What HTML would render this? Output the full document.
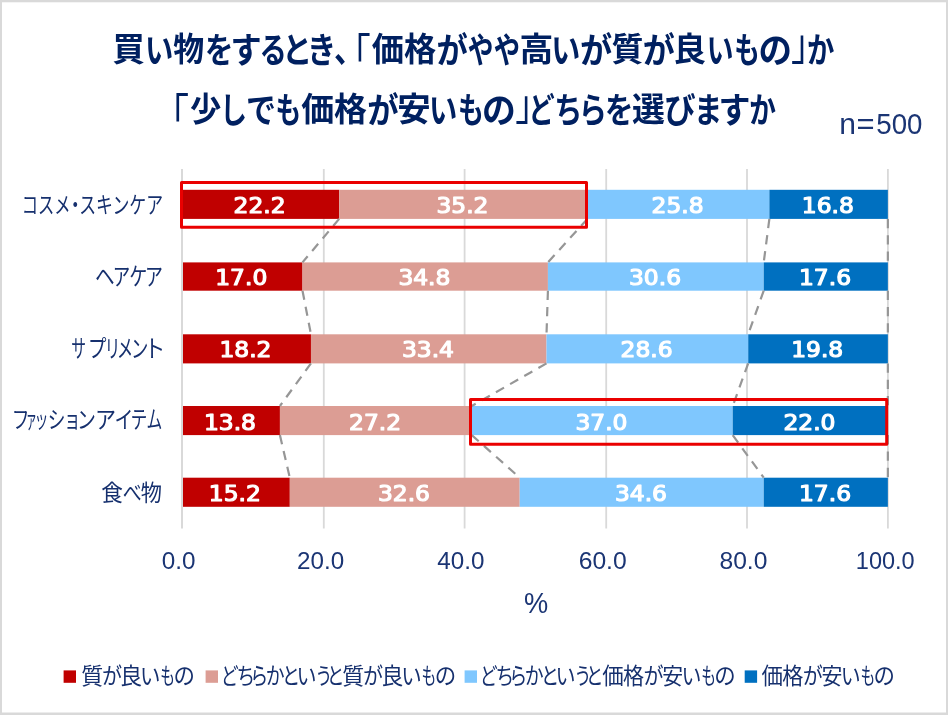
<!DOCTYPE html>
<html lang="ja"><head><meta charset="utf-8"><title>chart</title>
<style>
html,body{margin:0;padding:0;background:#fff}
svg{display:block}
text{font-family:"Liberation Sans","Noto Sans CJK JP",sans-serif;fill:#16306e;font-size:21.33px;white-space:pre}
.t{fill:#002060;font-weight:700;font-size:34px}
.a{font-size:22px;fill:#1b3574}
.d{font-weight:400;font-size:23.5px;fill:#fff;stroke:#fff;stroke-width:1.3px;stroke-linejoin:round;font-family:"DejaVu Sans","Liberation Sans",sans-serif}
</style></head>
<body>
<svg width="948" height="715" viewBox="0 0 948 715">
<rect x="0" y="0" width="948" height="715" fill="#d9d9d9"/>
<rect x="2" y="2.3" width="944" height="710.2" fill="#fff"/>
<g shape-rendering="auto">
<rect x="322.90" y="169" width="1.8" height="359.5" fill="#d9d9d9"/>
<rect x="463.70" y="169" width="1.8" height="359.5" fill="#d9d9d9"/>
<rect x="605.30" y="169" width="1.8" height="359.5" fill="#d9d9d9"/>
<rect x="746.10" y="169" width="1.8" height="359.5" fill="#d9d9d9"/>
<rect x="887.00" y="169" width="1.8" height="359.5" fill="#d9d9d9"/>
<rect x="182.60" y="189.80" width="156.57" height="29.1" fill="#c00000"/>
<rect x="339.17" y="189.80" width="248.25" height="29.1" fill="#dc9d94"/>
<rect x="587.41" y="189.80" width="181.95" height="29.1" fill="#7fc7fe"/>
<rect x="769.37" y="189.80" width="118.48" height="29.1" fill="#0070c0"/>
<rect x="182.60" y="262.40" width="119.89" height="28.3" fill="#c00000"/>
<rect x="302.49" y="262.40" width="245.43" height="28.3" fill="#dc9d94"/>
<rect x="547.92" y="262.40" width="215.81" height="28.3" fill="#7fc7fe"/>
<rect x="763.73" y="262.40" width="124.12" height="28.3" fill="#0070c0"/>
<rect x="182.60" y="334.30" width="128.36" height="29.1" fill="#c00000"/>
<rect x="310.96" y="334.30" width="235.55" height="29.1" fill="#dc9d94"/>
<rect x="546.51" y="334.30" width="201.70" height="29.1" fill="#7fc7fe"/>
<rect x="748.21" y="334.30" width="139.64" height="29.1" fill="#0070c0"/>
<rect x="182.60" y="406.00" width="97.32" height="29.1" fill="#c00000"/>
<rect x="279.92" y="406.00" width="191.83" height="29.1" fill="#dc9d94"/>
<rect x="471.75" y="406.00" width="260.94" height="29.1" fill="#7fc7fe"/>
<rect x="732.70" y="406.00" width="155.15" height="29.1" fill="#0070c0"/>
<rect x="182.60" y="477.70" width="107.20" height="29.1" fill="#c00000"/>
<rect x="289.80" y="477.70" width="229.91" height="29.1" fill="#dc9d94"/>
<rect x="519.71" y="477.70" width="244.02" height="29.1" fill="#7fc7fe"/>
<rect x="763.73" y="477.70" width="124.12" height="29.1" fill="#0070c0"/>
<rect x="181" y="169" width="2" height="359.5" fill="#d9d9d9"/>
<line x1="339.17" y1="218.90" x2="302.49" y2="262.40" stroke="#969696" stroke-width="2.2" stroke-dasharray="9.3 7"/>
<line x1="587.41" y1="218.90" x2="547.92" y2="262.40" stroke="#969696" stroke-width="2.2" stroke-dasharray="9.3 7"/>
<line x1="769.37" y1="218.90" x2="763.73" y2="262.40" stroke="#969696" stroke-width="2.2" stroke-dasharray="9.3 7"/>
<line x1="887.85" y1="218.90" x2="887.85" y2="262.40" stroke="#969696" stroke-width="2.2" stroke-dasharray="9.3 7"/>
<line x1="302.49" y1="290.70" x2="310.96" y2="334.30" stroke="#969696" stroke-width="2.2" stroke-dasharray="9.3 7"/>
<line x1="547.92" y1="290.70" x2="546.51" y2="334.30" stroke="#969696" stroke-width="2.2" stroke-dasharray="9.3 7"/>
<line x1="763.73" y1="290.70" x2="748.21" y2="334.30" stroke="#969696" stroke-width="2.2" stroke-dasharray="9.3 7"/>
<line x1="887.85" y1="290.70" x2="887.85" y2="334.30" stroke="#969696" stroke-width="2.2" stroke-dasharray="9.3 7"/>
<line x1="310.96" y1="363.40" x2="279.92" y2="406.00" stroke="#969696" stroke-width="2.2" stroke-dasharray="9.3 7"/>
<line x1="546.51" y1="363.40" x2="471.75" y2="406.00" stroke="#969696" stroke-width="2.2" stroke-dasharray="9.3 7"/>
<line x1="748.21" y1="363.40" x2="732.70" y2="406.00" stroke="#969696" stroke-width="2.2" stroke-dasharray="9.3 7"/>
<line x1="887.85" y1="363.40" x2="887.85" y2="406.00" stroke="#969696" stroke-width="2.2" stroke-dasharray="9.3 7"/>
<line x1="279.92" y1="435.10" x2="289.80" y2="477.70" stroke="#969696" stroke-width="2.2" stroke-dasharray="9.3 7"/>
<line x1="471.75" y1="435.10" x2="519.71" y2="477.70" stroke="#969696" stroke-width="2.2" stroke-dasharray="9.3 7"/>
<line x1="732.70" y1="435.10" x2="763.73" y2="477.70" stroke="#969696" stroke-width="2.2" stroke-dasharray="9.3 7"/>
<line x1="887.85" y1="435.10" x2="887.85" y2="477.70" stroke="#969696" stroke-width="2.2" stroke-dasharray="9.3 7"/>
<rect x="63.6" y="670.4" width="12.4" height="12.4" fill="#c00000"/>
<rect x="205.6" y="670.4" width="12.4" height="12.4" fill="#dc9d94"/>
<rect x="464.6" y="670.4" width="12.4" height="12.4" fill="#7fc7fe"/>
<rect x="744.7" y="670.4" width="12.4" height="12.4" fill="#0070c0"/>
</g>
<g>
<text class="t"><tspan x="112.47" y="61.37" font-size="33.26" textLength="32.31" lengthAdjust="spacingAndGlyphs">買</tspan><tspan x="144.88" y="62.56" font-size="34.89" textLength="28.28" lengthAdjust="spacingAndGlyphs">い</tspan><tspan x="173.32" y="61.37" font-size="33.26" textLength="30.92" lengthAdjust="spacingAndGlyphs">物</tspan><tspan x="204.91" y="62.56" font-size="34.89" textLength="28.41" lengthAdjust="spacingAndGlyphs">を</tspan><tspan x="230.46" y="62.56" font-size="34.89" textLength="31.10" lengthAdjust="spacingAndGlyphs">す</tspan><tspan x="259.59" y="62.56" font-size="34.89" textLength="27.33" lengthAdjust="spacingAndGlyphs">る</tspan><tspan x="281.95" y="62.56" font-size="34.89" textLength="30.30" lengthAdjust="spacingAndGlyphs">と</tspan><tspan x="306.89" y="62.56" font-size="34.89" textLength="29.28" lengthAdjust="spacingAndGlyphs">き</tspan><tspan x="334.07" y="62.14" font-size="35.62" textLength="30.05" lengthAdjust="spacingAndGlyphs">、</tspan><tspan x="336.19" y="70.23" font-size="42.96" textLength="34.47" lengthAdjust="spacingAndGlyphs" font-weight="400">「</tspan><tspan x="371.73" y="61.37" font-size="33.26" textLength="64.38" lengthAdjust="spacingAndGlyphs">価格</tspan><tspan x="436.39" y="62.56" font-size="34.89" textLength="31.30" lengthAdjust="spacingAndGlyphs">が</tspan><tspan x="467.87" y="62.56" font-size="34.89" textLength="25.63" lengthAdjust="spacingAndGlyphs">や</tspan><tspan x="493.84" y="62.56" font-size="34.89" textLength="26.30" lengthAdjust="spacingAndGlyphs">や</tspan><tspan x="519.51" y="61.37" font-size="33.26" textLength="33.77" lengthAdjust="spacingAndGlyphs">高</tspan><tspan x="551.20" y="62.56" font-size="34.89" textLength="29.01" lengthAdjust="spacingAndGlyphs">い</tspan><tspan x="579.94" y="62.56" font-size="34.89" textLength="32.17" lengthAdjust="spacingAndGlyphs">が</tspan><tspan x="611.53" y="61.37" font-size="33.26" textLength="31.92" lengthAdjust="spacingAndGlyphs">質</tspan><tspan x="642.65" y="62.56" font-size="34.89" textLength="32.06" lengthAdjust="spacingAndGlyphs">が</tspan><tspan x="673.13" y="61.37" font-size="33.26" textLength="32.77" lengthAdjust="spacingAndGlyphs">良</tspan><tspan x="706.65" y="62.56" font-size="34.89" textLength="26.72" lengthAdjust="spacingAndGlyphs">い</tspan><tspan x="734.13" y="62.56" font-size="34.89" textLength="25.59" lengthAdjust="spacingAndGlyphs">も</tspan><tspan x="758.38" y="62.56" font-size="34.89" textLength="33.48" lengthAdjust="spacingAndGlyphs">の</tspan><tspan x="791.01" y="60.34" font-size="42.65" textLength="35.11" lengthAdjust="spacingAndGlyphs" font-weight="400">」</tspan><tspan x="806.99" y="62.56" font-size="34.89" textLength="27.31" lengthAdjust="spacingAndGlyphs">か</tspan></text>
<text class="t"><tspan x="153.07" y="130.23" font-size="42.96" textLength="36.06" lengthAdjust="spacingAndGlyphs" font-weight="400">「</tspan><tspan x="190.08" y="121.37" font-size="33.26" textLength="31.31" lengthAdjust="spacingAndGlyphs">少</tspan><tspan x="220.03" y="122.56" font-size="34.89" textLength="27.06" lengthAdjust="spacingAndGlyphs">し</tspan><tspan x="245.92" y="122.56" font-size="34.89" textLength="29.97" lengthAdjust="spacingAndGlyphs">で</tspan><tspan x="275.62" y="122.56" font-size="34.89" textLength="25.72" lengthAdjust="spacingAndGlyphs">も</tspan><tspan x="301.22" y="121.37" font-size="33.26" textLength="65.81" lengthAdjust="spacingAndGlyphs">価格</tspan><tspan x="367.28" y="122.56" font-size="34.89" textLength="31.41" lengthAdjust="spacingAndGlyphs">が</tspan><tspan x="397.28" y="121.37" font-size="33.26" textLength="33.44" lengthAdjust="spacingAndGlyphs">安</tspan><tspan x="429.08" y="122.56" font-size="34.89" textLength="28.28" lengthAdjust="spacingAndGlyphs">い</tspan><tspan x="458.01" y="122.56" font-size="34.89" textLength="25.84" lengthAdjust="spacingAndGlyphs">も</tspan><tspan x="481.96" y="122.56" font-size="34.89" textLength="33.83" lengthAdjust="spacingAndGlyphs">の</tspan><tspan x="515.22" y="119.89" font-size="42.04" textLength="34.79" lengthAdjust="spacingAndGlyphs" font-weight="400">」</tspan><tspan x="528.46" y="122.56" font-size="34.89" textLength="26.13" lengthAdjust="spacingAndGlyphs">ど</tspan><tspan x="554.21" y="122.56" font-size="34.89" textLength="28.12" lengthAdjust="spacingAndGlyphs">ち</tspan><tspan x="578.65" y="122.56" font-size="34.89" textLength="28.17" lengthAdjust="spacingAndGlyphs">ら</tspan><tspan x="605.01" y="122.56" font-size="34.89" textLength="28.41" lengthAdjust="spacingAndGlyphs">を</tspan><tspan x="631.97" y="121.37" font-size="33.26" textLength="32.95" lengthAdjust="spacingAndGlyphs">選</tspan><tspan x="664.32" y="122.56" font-size="34.89" textLength="31.48" lengthAdjust="spacingAndGlyphs">び</tspan><tspan x="693.92" y="122.56" font-size="34.89" textLength="28.32" lengthAdjust="spacingAndGlyphs">ま</tspan><tspan x="718.48" y="122.56" font-size="34.89" textLength="31.93" lengthAdjust="spacingAndGlyphs">す</tspan><tspan x="749.23" y="122.56" font-size="34.89" textLength="26.66" lengthAdjust="spacingAndGlyphs">か</tspan></text>
<text class="a"><tspan x="839.16" y="134.14" font-size="29.06" textLength="16.71" lengthAdjust="spacingAndGlyphs">n</tspan><tspan x="856.62" y="134.14" font-size="29.06" textLength="18.08" lengthAdjust="spacingAndGlyphs">=</tspan><tspan x="876.37" y="134.14" font-size="29.06" textLength="46.14" lengthAdjust="spacingAndGlyphs">500</tspan></text>
<text class="c"><tspan x="21.63" y="213.02" font-size="22.95" textLength="48.87" lengthAdjust="spacingAndGlyphs">コスメ</tspan><tspan x="66.22" y="213.02" font-size="22.95" textLength="18.02" lengthAdjust="spacingAndGlyphs">・</tspan><tspan x="79.22" y="213.02" font-size="22.95" textLength="83.88" lengthAdjust="spacingAndGlyphs">スキンケア</tspan></text>
<text class="c"><tspan x="94.92" y="284.87" font-size="23.65" textLength="19.69" lengthAdjust="spacingAndGlyphs">ヘ</tspan><tspan x="112.65" y="284.87" font-size="23.65" textLength="17.45" lengthAdjust="spacingAndGlyphs">ア</tspan><tspan x="129.23" y="284.87" font-size="23.65" textLength="18.02" lengthAdjust="spacingAndGlyphs">ケ</tspan><tspan x="145.09" y="284.87" font-size="23.65" textLength="17.95" lengthAdjust="spacingAndGlyphs">ア</tspan></text>
<text class="c"><tspan x="71.36" y="356.56" font-size="24.38" textLength="14.74" lengthAdjust="spacingAndGlyphs">サ</tspan><tspan x="87.92" y="356.56" font-size="24.38" textLength="18.48" lengthAdjust="spacingAndGlyphs">プ</tspan><tspan x="104.76" y="356.56" font-size="24.38" textLength="15.44" lengthAdjust="spacingAndGlyphs">リ</tspan><tspan x="116.91" y="356.56" font-size="24.38" textLength="16.14" lengthAdjust="spacingAndGlyphs">メ</tspan><tspan x="130.96" y="356.56" font-size="24.38" textLength="17.34" lengthAdjust="spacingAndGlyphs">ン</tspan><tspan x="144.00" y="356.56" font-size="24.38" textLength="21.34" lengthAdjust="spacingAndGlyphs">ト</tspan></text>
<text class="c"><tspan x="11.70" y="427.65" font-size="23.73" textLength="17.77" lengthAdjust="spacingAndGlyphs">フ</tspan><tspan x="25.73" y="427.65" font-size="23.73" textLength="11.19" lengthAdjust="spacingAndGlyphs">ァ</tspan><tspan x="34.55" y="427.65" font-size="23.73" textLength="13.93" lengthAdjust="spacingAndGlyphs">ッ</tspan><tspan x="47.83" y="427.65" font-size="23.73" textLength="17.69" lengthAdjust="spacingAndGlyphs">シ</tspan><tspan x="63.91" y="427.65" font-size="23.73" textLength="16.54" lengthAdjust="spacingAndGlyphs">ョ</tspan><tspan x="77.12" y="427.65" font-size="23.73" textLength="18.91" lengthAdjust="spacingAndGlyphs">ン</tspan><tspan x="95.08" y="427.65" font-size="23.73" textLength="21.09" lengthAdjust="spacingAndGlyphs">ア</tspan><tspan x="114.53" y="427.65" font-size="23.73" textLength="18.91" lengthAdjust="spacingAndGlyphs">イ</tspan><tspan x="130.86" y="427.65" font-size="23.73" textLength="16.47" lengthAdjust="spacingAndGlyphs">テ</tspan><tspan x="146.49" y="427.65" font-size="23.73" textLength="15.79" lengthAdjust="spacingAndGlyphs">ム</tspan></text>
<text class="c"><tspan x="101.18" y="500.59" font-size="23.22" textLength="21.67" lengthAdjust="spacingAndGlyphs">食</tspan><tspan x="122.81" y="499.99" font-size="20.90" textLength="18.98" lengthAdjust="spacingAndGlyphs">べ</tspan><tspan x="140.65" y="500.59" font-size="23.22" textLength="21.23" lengthAdjust="spacingAndGlyphs">物</tspan></text>
<text class="a" transform="matrix(1.1034 0 0 1.0839 161.87 568.63)">0.0</text>
<text class="a" transform="matrix(1.1000 0 0 1.0839 297.00 568.63)">20.0</text>
<text class="a" transform="matrix(1.1012 0 0 1.0839 437.25 568.63)">40.0</text>
<text class="a" transform="matrix(1.1220 0 0 1.0839 578.68 568.63)">60.0</text>
<text class="a" transform="matrix(1.1195 0 0 1.0839 719.48 568.63)">80.0</text>
<text class="a" transform="matrix(1.0686 0 0 1.0839 855.83 568.63)">100.0</text>
<text class="a" style="font-size:24px" transform="matrix(1.1342 0 0 1.2000 524.05 612.90)">%</text>
<text class="l"><tspan x="81.17" y="683.94" font-size="22.64" textLength="21.95" lengthAdjust="spacingAndGlyphs">質</tspan><tspan x="101.89" y="684.19" font-size="23.16" textLength="20.07" lengthAdjust="spacingAndGlyphs">が</tspan><tspan x="119.99" y="683.94" font-size="22.64" textLength="22.08" lengthAdjust="spacingAndGlyphs">良</tspan><tspan x="140.07" y="684.19" font-size="23.16" textLength="20.39" lengthAdjust="spacingAndGlyphs">い</tspan><tspan x="160.22" y="684.19" font-size="23.16" textLength="14.75" lengthAdjust="spacingAndGlyphs">も</tspan><tspan x="173.59" y="684.19" font-size="23.16" textLength="21.41" lengthAdjust="spacingAndGlyphs">の</tspan></text>
<text class="l"><tspan x="220.75" y="684.19" font-size="23.16" textLength="17.95" lengthAdjust="spacingAndGlyphs">ど</tspan><tspan x="236.42" y="684.19" font-size="23.16" textLength="18.59" lengthAdjust="spacingAndGlyphs">ち</tspan><tspan x="250.24" y="684.19" font-size="23.16" textLength="17.96" lengthAdjust="spacingAndGlyphs">ら</tspan><tspan x="265.75" y="684.19" font-size="23.16" textLength="18.90" lengthAdjust="spacingAndGlyphs">か</tspan><tspan x="281.82" y="684.19" font-size="23.16" textLength="18.47" lengthAdjust="spacingAndGlyphs">と</tspan><tspan x="296.42" y="684.19" font-size="23.16" textLength="20.01" lengthAdjust="spacingAndGlyphs">い</tspan><tspan x="315.20" y="684.19" font-size="23.16" textLength="17.07" lengthAdjust="spacingAndGlyphs">う</tspan><tspan x="326.78" y="684.19" font-size="23.16" textLength="17.70" lengthAdjust="spacingAndGlyphs">と</tspan><tspan x="342.37" y="683.94" font-size="22.64" textLength="21.95" lengthAdjust="spacingAndGlyphs">質</tspan><tspan x="363.09" y="684.19" font-size="23.16" textLength="20.07" lengthAdjust="spacingAndGlyphs">が</tspan><tspan x="381.19" y="683.94" font-size="22.64" textLength="22.08" lengthAdjust="spacingAndGlyphs">良</tspan><tspan x="401.27" y="684.19" font-size="23.16" textLength="20.39" lengthAdjust="spacingAndGlyphs">い</tspan><tspan x="421.42" y="684.19" font-size="23.16" textLength="14.75" lengthAdjust="spacingAndGlyphs">も</tspan><tspan x="434.79" y="684.19" font-size="23.16" textLength="21.41" lengthAdjust="spacingAndGlyphs">の</tspan></text>
<text class="l"><tspan x="479.75" y="684.19" font-size="23.16" textLength="17.95" lengthAdjust="spacingAndGlyphs">ど</tspan><tspan x="495.42" y="684.19" font-size="23.16" textLength="18.59" lengthAdjust="spacingAndGlyphs">ち</tspan><tspan x="509.24" y="684.19" font-size="23.16" textLength="17.96" lengthAdjust="spacingAndGlyphs">ら</tspan><tspan x="524.75" y="684.19" font-size="23.16" textLength="18.90" lengthAdjust="spacingAndGlyphs">か</tspan><tspan x="540.82" y="684.19" font-size="23.16" textLength="18.47" lengthAdjust="spacingAndGlyphs">と</tspan><tspan x="555.42" y="684.19" font-size="23.16" textLength="20.01" lengthAdjust="spacingAndGlyphs">い</tspan><tspan x="574.20" y="684.19" font-size="23.16" textLength="17.07" lengthAdjust="spacingAndGlyphs">う</tspan><tspan x="585.78" y="684.19" font-size="23.16" textLength="17.70" lengthAdjust="spacingAndGlyphs">と</tspan><tspan x="602.20" y="683.94" font-size="22.64" textLength="21.40" lengthAdjust="spacingAndGlyphs">価</tspan><tspan x="623.06" y="683.94" font-size="22.64" textLength="21.13" lengthAdjust="spacingAndGlyphs">格</tspan><tspan x="643.49" y="684.19" font-size="23.16" textLength="20.07" lengthAdjust="spacingAndGlyphs">が</tspan><tspan x="662.18" y="683.94" font-size="22.64" textLength="20.89" lengthAdjust="spacingAndGlyphs">安</tspan><tspan x="681.54" y="684.19" font-size="23.16" textLength="19.88" lengthAdjust="spacingAndGlyphs">い</tspan><tspan x="701.32" y="684.19" font-size="23.16" textLength="14.75" lengthAdjust="spacingAndGlyphs">も</tspan><tspan x="714.19" y="684.19" font-size="23.16" textLength="21.41" lengthAdjust="spacingAndGlyphs">の</tspan></text>
<text class="l"><tspan x="761.50" y="683.94" font-size="22.64" textLength="21.40" lengthAdjust="spacingAndGlyphs">価</tspan><tspan x="782.36" y="683.94" font-size="22.64" textLength="21.13" lengthAdjust="spacingAndGlyphs">格</tspan><tspan x="802.79" y="684.19" font-size="23.16" textLength="20.07" lengthAdjust="spacingAndGlyphs">が</tspan><tspan x="821.48" y="683.94" font-size="22.64" textLength="20.89" lengthAdjust="spacingAndGlyphs">安</tspan><tspan x="840.84" y="684.19" font-size="23.16" textLength="19.88" lengthAdjust="spacingAndGlyphs">い</tspan><tspan x="860.62" y="684.19" font-size="23.16" textLength="14.75" lengthAdjust="spacingAndGlyphs">も</tspan><tspan x="873.49" y="684.19" font-size="23.16" textLength="21.41" lengthAdjust="spacingAndGlyphs">の</tspan></text>
<text class="d" transform="matrix(0.9948 0 0 0.8857 233.55 213.00)">22.2</text>
<text class="d" transform="matrix(0.9948 0 0 0.8857 436.46 213.00)">35.2</text>
<text class="d" transform="matrix(0.9948 0 0 0.8857 651.56 213.00)">25.8</text>
<text class="d" transform="matrix(0.9948 0 0 0.8857 801.78 213.00)">16.8</text>
<text class="d" transform="matrix(0.9948 0 0 0.8857 215.22 284.80)">17.0</text>
<text class="d" transform="matrix(0.9948 0 0 0.8857 398.38 284.80)">34.8</text>
<text class="d" transform="matrix(0.9948 0 0 0.8857 628.99 284.80)">30.6</text>
<text class="d" transform="matrix(0.9948 0 0 0.8857 798.96 284.80)">17.6</text>
<text class="d" transform="matrix(0.9948 0 0 0.8857 219.45 357.00)">18.2</text>
<text class="d" transform="matrix(0.9948 0 0 0.8857 401.90 357.00)">33.4</text>
<text class="d" transform="matrix(0.9948 0 0 0.8857 620.53 357.00)">28.6</text>
<text class="d" transform="matrix(0.9948 0 0 0.8857 791.20 357.00)">19.8</text>
<text class="d" transform="matrix(0.9948 0 0 0.8857 203.93 429.50)">13.8</text>
<text class="d" transform="matrix(0.9948 0 0 0.8857 349.01 429.50)">27.2</text>
<text class="d" transform="matrix(0.9948 0 0 0.8857 575.40 429.50)">37.0</text>
<text class="d" transform="matrix(0.9948 0 0 0.8857 783.44 429.50)">22.0</text>
<text class="d" transform="matrix(0.9948 0 0 0.8857 208.87 501.45)">15.2</text>
<text class="d" transform="matrix(0.9948 0 0 0.8857 377.93 501.45)">32.6</text>
<text class="d" transform="matrix(0.9948 0 0 0.8857 614.89 501.45)">34.6</text>
<text class="d" transform="matrix(0.9948 0 0 0.8857 798.96 501.45)">17.6</text>
</g>
<rect x="181.5" y="182.5" width="405" height="44.8" fill="none" stroke="#ea0000" stroke-width="3" stroke-linejoin="round"/>
<rect x="470.5" y="399.5" width="416.2" height="44.8" fill="none" stroke="#ea0000" stroke-width="3" stroke-linejoin="round"/>
</svg>
</body></html>
